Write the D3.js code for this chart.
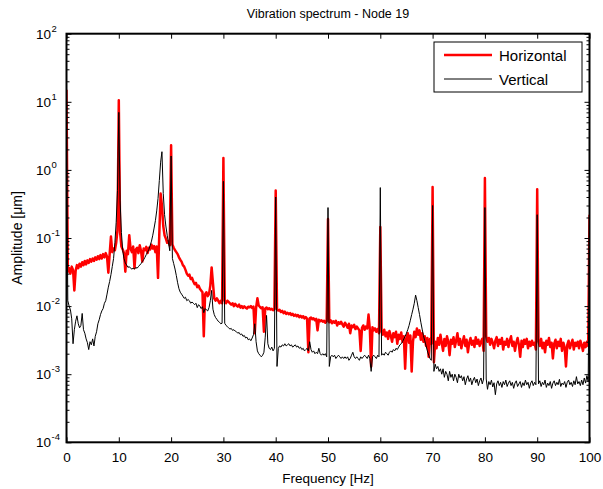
<!DOCTYPE html>
<html>
<head>
<meta charset="utf-8">
<script src="https://cdn.jsdelivr.net/npm/d3@7"></script>
<style>
  body { margin: 0; background: #fff; }
  text { font-family: "Liberation Sans", Arial, sans-serif; fill: #000; }
</style>
</head>
<body>
<svg id="chart" width="603" height="489"></svg>
<script>
// Amplitude spectra of node 19, one value per 0.25 Hz bin from 0 to 100 Hz [µm]
const freqStep = 0.25;

const horizontal = [
  // 0 – 9.75 Hz
  15, 0.032, 0.036, 0.030, 0.038, 0.034, 0.017, 0.033, 0.040, 0.036,
  0.042, 0.038, 0.044, 0.040, 0.046, 0.041, 0.047, 0.043, 0.049, 0.045,
  0.050, 0.046, 0.052, 0.048, 0.054, 0.049, 0.056, 0.050, 0.058, 0.052,
  0.060, 0.053, 0.031, 0.058, 0.105, 0.062, 0.070, 0.066, 0.085, 0.13,
  // 10 – 19.75 Hz
  10.5, 0.12, 0.075, 0.068, 0.060, 0.032, 0.065, 0.058, 0.110, 0.070,
  0.062, 0.075, 0.036, 0.068, 0.072, 0.060, 0.078, 0.065, 0.045, 0.070,
  0.066, 0.074, 0.060, 0.072, 0.068, 0.080, 0.070, 0.076, 0.062, 0.075,
  0.026, 0.12, 0.45, 0.30, 0.15, 0.11, 0.098, 0.085, 0.090, 0.078,
  // 20 – 29.75 Hz
  2.3, 0.080, 0.072, 0.066, 0.062, 0.058, 0.052, 0.048, 0.045, 0.040,
  0.038, 0.034, 0.030, 0.028, 0.029, 0.025, 0.026, 0.023, 0.021, 0.022,
  0.019, 0.020, 0.018, 0.017, 0.016, 0.0036, 0.015, 0.016, 0.014, 0.015,
  0.020, 0.037, 0.022, 0.013, 0.012, 0.013, 0.012, 0.011, 0.012, 0.011,
  // 30 – 39.75 Hz
  1.5, 0.012, 0.011, 0.012, 0.0115, 0.011, 0.0105, 0.011, 0.010, 0.0108,
  0.0102, 0.0098, 0.0105, 0.0095, 0.010, 0.0094, 0.0099, 0.0095, 0.0092, 0.0098,
  0.0096, 0.0100, 0.0094, 0.0098, 0.0040, 0.0094, 0.0130, 0.0102, 0.0097, 0.0093,
  0.0096, 0.0042, 0.0092, 0.0095, 0.0090, 0.0093, 0.0089, 0.0091, 0.0087, 0.0090,
  // 40 – 49.75 Hz
  0.5, 0.0090, 0.0086, 0.0088, 0.0082, 0.0085, 0.0079, 0.0083, 0.0077, 0.0080,
  0.0076, 0.0079, 0.0074, 0.0077, 0.0072, 0.0075, 0.0071, 0.0074, 0.0069, 0.0072,
  0.0068, 0.0071, 0.0066, 0.0069, 0.0065, 0.0021, 0.0066, 0.0068, 0.0064, 0.0066,
  0.0062, 0.0065, 0.0044, 0.0063, 0.0060, 0.0062, 0.0059, 0.0061, 0.0057, 0.0060,
  // 50 – 59.75 Hz
  0.19, 0.0058, 0.0062, 0.0056, 0.0060, 0.0057, 0.0061, 0.0052, 0.0058, 0.0055,
  0.0059, 0.0054, 0.0050, 0.0057, 0.0053, 0.0048, 0.0055, 0.0040, 0.0052, 0.0049,
  0.0053, 0.0046, 0.0050, 0.0047, 0.0044, 0.0022, 0.0048, 0.0052, 0.0045, 0.0050,
  0.0047, 0.0075, 0.0046, 0.0013, 0.0049, 0.0044, 0.0047, 0.0042, 0.0046, 0.0040,
  // 60 – 69.75 Hz
  0.145, 0.0042, 0.0038, 0.0045, 0.0036, 0.0041, 0.0033, 0.0043, 0.0037, 0.0030,
  0.0040, 0.0035, 0.0042, 0.0028, 0.0038, 0.0033, 0.0041, 0.0030, 0.0036, 0.0012,
  0.0034, 0.0040, 0.0029, 0.0037, 0.0011, 0.0030, 0.0042, 0.0035, 0.0047, 0.0038,
  0.0044, 0.0032, 0.0040, 0.0030, 0.0036, 0.0026, 0.0034, 0.0018, 0.0033, 0.0028,
  // 70 – 79.75 Hz
  0.56, 0.0015, 0.0030, 0.0024, 0.0034, 0.0027, 0.0038, 0.0029, 0.0022, 0.0033,
  0.0026, 0.0036, 0.0030, 0.0019, 0.0032, 0.0028, 0.0035, 0.0025, 0.0031, 0.0040,
  0.0027, 0.0033, 0.0024, 0.0030, 0.0036, 0.0026, 0.0032, 0.0021, 0.0029, 0.0034,
  0.0027, 0.0031, 0.0025, 0.0035, 0.0028, 0.0032, 0.0026, 0.0030, 0.0033, 0.0022,
  // 80 – 89.75 Hz
  0.76, 0.0036, 0.0030, 0.0034, 0.0027, 0.0033, 0.0029, 0.0024, 0.0031, 0.0035,
  0.0026, 0.0032, 0.0028, 0.0034, 0.0023, 0.0030, 0.0027, 0.0033, 0.0025, 0.0031,
  0.0036, 0.0026, 0.0030, 0.0022, 0.0029, 0.0034, 0.0027, 0.0018, 0.0031, 0.0025,
  0.0032, 0.0028, 0.0033, 0.0024, 0.0030, 0.0026, 0.0031, 0.0027, 0.0029, 0.0023,
  // 90 – 99.75 Hz
  0.52, 0.0030, 0.0026, 0.0033, 0.0024, 0.0029, 0.0021, 0.0031, 0.0027, 0.0034,
  0.0025, 0.0029, 0.0017, 0.0028, 0.0032, 0.0024, 0.0030, 0.0026, 0.0033, 0.0022,
  0.0029, 0.0025, 0.0013, 0.0027, 0.0031, 0.0024, 0.0028, 0.0032, 0.0023, 0.0029,
  0.0026, 0.0030, 0.0024, 0.0031, 0.0027, 0.0022, 0.0029, 0.0025, 0.0030, 0.0026,
  // 100 Hz
  0.22
];

const vertical = [
  // 0 – 9.75 Hz
  3.0, 0.012, 0.010, 0.0088, 0.0065, 0.0028, 0.0045, 0.0060, 0.0072, 0.0055,
  0.0048, 0.0052, 0.0078, 0.0045, 0.0040, 0.0033, 0.0029, 0.0023, 0.0030, 0.0027,
  0.0033, 0.0026, 0.0036, 0.0042, 0.0055, 0.0063, 0.0075, 0.0085, 0.0092, 0.011,
  0.012, 0.015, 0.019, 0.023, 0.029, 0.038, 0.050, 0.085, 0.17, 0.50,
  // 10 – 19.75 Hz
  7.0, 0.35, 0.12, 0.065, 0.050, 0.043, 0.040, 0.037, 0.038, 0.036,
  0.035, 0.036, 0.035, 0.037, 0.036, 0.038, 0.040, 0.042, 0.045, 0.048,
  0.052, 0.057, 0.062, 0.068, 0.078, 0.090, 0.11, 0.14, 0.18, 0.25,
  0.38, 0.70, 1.3, 1.85, 0.45, 0.22, 0.15, 0.11, 0.085, 0.065,
  // 20 – 29.75 Hz
  1.6, 0.050, 0.042, 0.035, 0.028, 0.022, 0.018, 0.016, 0.015, 0.014,
  0.013, 0.0135, 0.012, 0.0125, 0.012, 0.011, 0.0115, 0.011, 0.0105, 0.011,
  0.0095, 0.0105, 0.010, 0.0092, 0.0098, 0.0080, 0.0092, 0.0088, 0.0085, 0.0095,
  0.012, 0.017, 0.0090, 0.0075, 0.0068, 0.0064, 0.0060, 0.0058, 0.0055, 0.0056,
  // 30 – 39.75 Hz
  0.68, 0.0056, 0.0052, 0.0050, 0.0048, 0.0046, 0.0047, 0.0044, 0.0045, 0.0043,
  0.0042, 0.0040, 0.0041, 0.0038, 0.0039, 0.0036, 0.0037, 0.0034, 0.0035, 0.0032,
  0.0033, 0.0031, 0.0034, 0.0038, 0.0055, 0.0030, 0.0022, 0.0020, 0.0019, 0.0018,
  0.0019, 0.0021, 0.0035, 0.0073, 0.0028, 0.0024, 0.0023, 0.0025, 0.0022, 0.0024,
  // 40 – 49.75 Hz
  0.40, 0.0013, 0.0024, 0.0026, 0.0025, 0.0027, 0.0026, 0.0028, 0.0026, 0.0027,
  0.0028, 0.0026, 0.0027, 0.0025, 0.0026, 0.0027, 0.0025, 0.0026, 0.0024, 0.0025,
  0.0023, 0.0024, 0.0022, 0.0023, 0.0024, 0.0022, 0.0030, 0.0023, 0.0021, 0.0022,
  0.0020, 0.0021, 0.0020, 0.0024, 0.0020, 0.0019, 0.0020, 0.0019, 0.0020, 0.0018,
  // 50 – 59.75 Hz
  0.28, 0.0013, 0.0018, 0.0019, 0.0018, 0.0019, 0.0017, 0.0018, 0.0019, 0.0018,
  0.0017, 0.0018, 0.0017, 0.0018, 0.0017, 0.0018, 0.0016, 0.0017, 0.0019, 0.0021,
  0.0018, 0.0017, 0.0018, 0.0017, 0.0016, 0.0018, 0.0017, 0.0018, 0.0019, 0.0018,
  0.0017, 0.0019, 0.0017, 0.0011, 0.0018, 0.0019, 0.0018, 0.0017, 0.0019, 0.0018,
  // 60 – 69.75 Hz
  0.55, 0.0019, 0.0020, 0.0019, 0.0021, 0.0020, 0.0019, 0.0021, 0.0022, 0.0021,
  0.0023, 0.0022, 0.0024, 0.0023, 0.0025, 0.0027, 0.0028, 0.0030, 0.0033, 0.0036,
  0.0040, 0.0045, 0.0052, 0.0062, 0.0075, 0.0090, 0.011, 0.0145, 0.012, 0.0095,
  0.0075, 0.0058, 0.0046, 0.0037, 0.0031, 0.0026, 0.0022, 0.0019, 0.0017, 0.0016,
  // 70 – 79.75 Hz
  0.30, 0.0011, 0.0014, 0.0012, 0.0013, 0.0011, 0.0012, 0.0010, 0.0012, 0.0009,
  0.0011, 0.0010, 0.0008, 0.0011, 0.0009, 0.0010, 0.0008, 0.0010, 0.0009, 0.00075,
  0.0010, 0.00088, 0.00095, 0.0008, 0.00092, 0.0007, 0.00085, 0.00095, 0.00078, 0.00088,
  0.0007, 0.00082, 0.0009, 0.00075, 0.00085, 0.00068, 0.0008, 0.00088, 0.00072, 0.00085,
  // 80 – 89.75 Hz
  0.28, 0.00085, 0.0006, 0.00078, 0.0007, 0.00082, 0.00065, 0.00075, 0.0005, 0.00072,
  0.0008, 0.00068, 0.00076, 0.00064, 0.00078, 0.0007, 0.00082, 0.00066, 0.00074, 0.0008,
  0.00068, 0.00076, 0.00062, 0.00074, 0.0008, 0.00066, 0.00072, 0.00078, 0.00064, 0.00075,
  0.00068, 0.00082, 0.0007, 0.00076, 0.00062, 0.00074, 0.0008, 0.00068, 0.00076, 0.0007,
  // 90 – 99.75 Hz
  0.22, 0.00072, 0.0008, 0.00066, 0.00076, 0.0007, 0.00082, 0.00064, 0.00074, 0.00068,
  0.00078, 0.00062, 0.00074, 0.0008, 0.00068, 0.00076, 0.0007, 0.00084, 0.00066, 0.00074,
  0.0007, 0.00078, 0.00064, 0.00076, 0.00082, 0.0007, 0.00076, 0.00066, 0.0008, 0.0007,
  0.00092, 0.00072, 0.00078, 0.00068, 0.00082, 0.0007, 0.00088, 0.00074, 0.00095, 0.00078,
  // 100 Hz
  0.20
];

const seriesNames = ["Horizontal", "Vertical"];
const seriesColors = ["#ff0000", "#000000"];
const xTicks = [0, 10, 20, 30, 40, 50, 60, 70, 80, 90, 100];
const yDecades = [2, 1, 0, -1, -2, -3, -4];
const titleText = "Vibration spectrum - Node 19";
const xLabel = "Frequency [Hz]";
const yLabel = "Amplitude [\u03bcm]";

// ---- layout ----
const W = 603, H = 489;
const plot = { left: 66.5, right: 589.5, top: 33.7, bottom: 442.3 };

const svg = d3.select("#chart");
svg.append("rect").attr("width", W).attr("height", H).attr("fill", "#fff");

const x = d3.scaleLinear().domain([0, 100]).range([plot.left, plot.right]);
const y = d3.scaleLog().domain([1e-4, 1e2]).range([plot.bottom, plot.top]);

svg.append("defs").append("clipPath").attr("id", "plotClip")
  .append("rect")
  .attr("x", plot.left).attr("y", plot.top)
  .attr("width", plot.right - plot.left).attr("height", plot.bottom - plot.top);

// ---- spectra: horizontal (thick red) below vertical (thin black) ----
const line = d3.line()
  .x((d, i) => x(i * freqStep))
  .y(d => y(d));

const dataG = svg.append("g").attr("clip-path", "url(#plotClip)");
dataG.append("path").datum(horizontal)
  .attr("fill", "none").attr("stroke", seriesColors[0])
  .attr("stroke-width", 2.5).attr("stroke-linejoin", "round")
  .attr("d", line);
dataG.append("path").datum(vertical)
  .attr("fill", "none").attr("stroke", seriesColors[1])
  .attr("stroke-width", 1).attr("stroke-linejoin", "round")
  .attr("d", line);

// ---- axes (ticks pointing inward) ----
const minorVals = [];
yDecades.slice(0, -1).forEach(e => {
  for (let m = 2; m <= 9; m++) minorVals.push(m * Math.pow(10, e - 1));
});

function styleAxis(g) {
  g.select(".domain").remove();
  g.selectAll(".tick line").attr("stroke", "#000").attr("stroke-width", 1);
}

svg.append("g").attr("transform", `translate(0,${plot.bottom})`)
  .call(d3.axisBottom(x).tickValues(xTicks).tickSizeInner(-5).tickSizeOuter(0).tickPadding(10))
  .call(styleAxis)
  .call(g => g.selectAll(".tick text")
    .attr("font-size", 13.5).attr("font-family", "Liberation Sans, Arial, sans-serif")
    .attr("y", 20).attr("dy", 0));

svg.append("g").attr("transform", `translate(0,${plot.top})`)
  .call(d3.axisTop(x).tickValues(xTicks).tickSizeInner(-5).tickSizeOuter(0).tickFormat(""))
  .call(styleAxis);

// major y ticks on both sides
[["left", plot.left, d3.axisLeft], ["right", plot.right, d3.axisRight]].forEach(([side, px, ax]) => {
  svg.append("g").attr("transform", `translate(${px},0)`)
    .call(ax(y).tickValues(yDecades.map(e => Math.pow(10, e))).tickSizeInner(-5).tickSizeOuter(0).tickFormat(""))
    .call(styleAxis);
  svg.append("g").attr("transform", `translate(${px},0)`)
    .call(ax(y).tickValues(minorVals).tickSizeInner(-3).tickSizeOuter(0).tickFormat(""))
    .call(styleAxis);
});

// y tick labels as 10 with superscript exponent
const yLabels = svg.append("g");
yDecades.forEach(e => {
  const yy = y(Math.pow(10, e));
  yLabels.append("text")
    .attr("x", 51).attr("y", yy + 5)
    .attr("text-anchor", "end").attr("font-size", 13.5)
    .text("10");
  yLabels.append("text")
    .attr("x", 51.5).attr("y", yy - 2)
    .attr("text-anchor", "start").attr("font-size", 9.5)
    .text(String(e));
});

// axes box
svg.append("rect")
  .attr("x", plot.left).attr("y", plot.top)
  .attr("width", plot.right - plot.left).attr("height", plot.bottom - plot.top)
  .attr("fill", "none").attr("stroke", "#000").attr("stroke-width", 2);

// ---- titles ----
svg.append("text")
  .attr("x", (plot.left + plot.right) / 2).attr("y", 18)
  .attr("text-anchor", "middle").attr("font-size", 12.5)
  .text(titleText);

svg.append("text")
  .attr("x", (plot.left + plot.right) / 2).attr("y", 483)
  .attr("text-anchor", "middle").attr("font-size", 13.5)
  .text(xLabel);

svg.append("text")
  .attr("transform", `translate(22,${(plot.top + plot.bottom) / 2}) rotate(-90)`)
  .attr("text-anchor", "middle").attr("font-size", 14)
  .text(yLabel);

// ---- legend ----
const leg = { x: 434, y: 42, w: 148, h: 50 };
const legG = svg.append("g");
legG.append("rect")
  .attr("x", leg.x).attr("y", leg.y).attr("width", leg.w).attr("height", leg.h)
  .attr("fill", "#fff").attr("stroke", "#000").attr("stroke-width", 1);
seriesNames.forEach((name, i) => {
  const ly = leg.y + 13 + i * 24;
  legG.append("line")
    .attr("x1", leg.x + 10).attr("x2", leg.x + 58)
    .attr("y1", ly).attr("y2", ly)
    .attr("stroke", seriesColors[i]).attr("stroke-width", i === 0 ? 2.5 : 1);
  legG.append("text")
    .attr("x", leg.x + 65).attr("y", ly + 5.5)
    .attr("font-size", 15)
    .text(name);
});
</script>
</body>
</html>
